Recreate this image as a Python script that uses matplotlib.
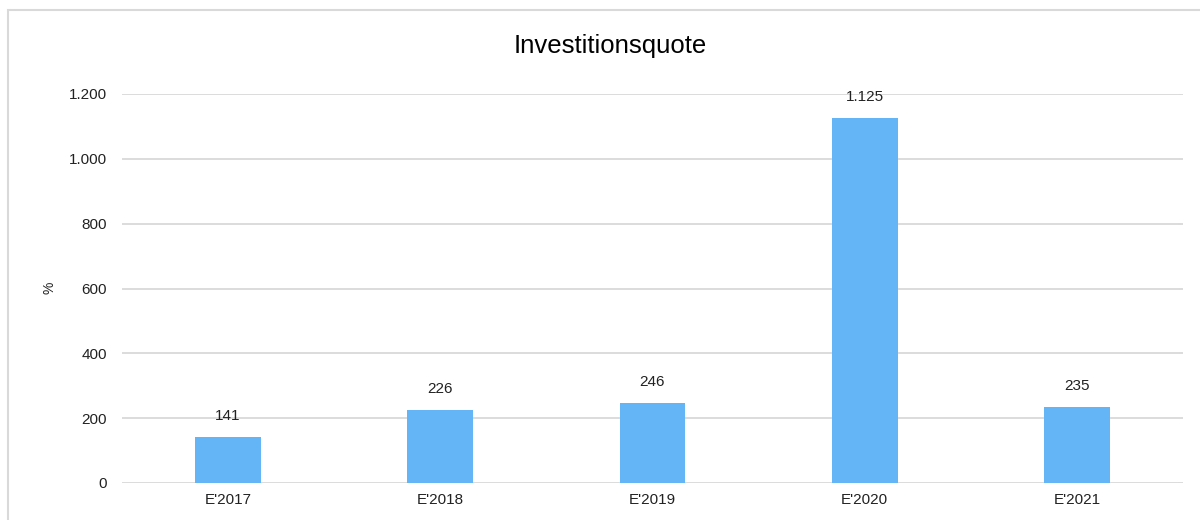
import matplotlib
matplotlib.use("Agg")
import matplotlib.pyplot as plt
from matplotlib.patches import Rectangle
from matplotlib.ticker import FuncFormatter

categories = ["E'2017", "E'2018", "E'2019", "E'2020", "E'2021"]
values = [141, 226, 246, 1125, 235]
yticks = [0, 200, 400, 600, 800, 1000, 1200]

plt.rcParams['font.family'] = ['Liberation Sans', 'DejaVu Sans']

def fmt(v):
    return f"{int(round(v)):,}".replace(",", ".")

fig = plt.figure(figsize=(12, 5.2), dpi=100)
fig.patches.append(Rectangle((8/1200, -0.1), 1.2, 1 - 10/520 + 0.1, transform=fig.transFigure,
                             fill=False, edgecolor='#d9d9d9', linewidth=1.5, zorder=0))

ax = fig.add_axes([122/1200, 1 - 483/520, (1183 - 122)/1200, (483 - 94)/520])
x = range(len(categories))
ax.bar(x, values, width=0.31, color='#64b5f6', zorder=3)
ax.set_xlim(-0.5, len(categories) - 0.5)
ax.set_ylim(0, 1200)
ax.set_yticks(yticks)
ax.yaxis.set_major_formatter(FuncFormatter(lambda v, p: fmt(v)))
ax.set_xticks(list(x))
ax.set_xticklabels(categories)
ax.grid(axis='y', color='#d9d9d9', linewidth=1.3, zorder=0)
for s in ax.spines.values():
    s.set_visible(False)
ax.tick_params(axis='both', length=0, labelsize=11, colors='#222222')
ax.tick_params(axis='y', pad=11)
ax.tick_params(axis='x', pad=7)

for xi, v in zip(x, values):
    ax.annotate(fmt(v), (xi, v), xytext=(0, 10), textcoords='offset points',
                ha='center', va='bottom', fontsize=11, color='#222222')

fig.text(50/1200, 1 - 288/520, '%', rotation=90, ha='center', va='center', fontsize=10, color='#222222')
fig.text(610/1200, 1 - 46/520, 'Investitionsquote', ha='center', va='center', fontsize=18.5, color='#000000')

fig.savefig('out.png', dpi=100)
